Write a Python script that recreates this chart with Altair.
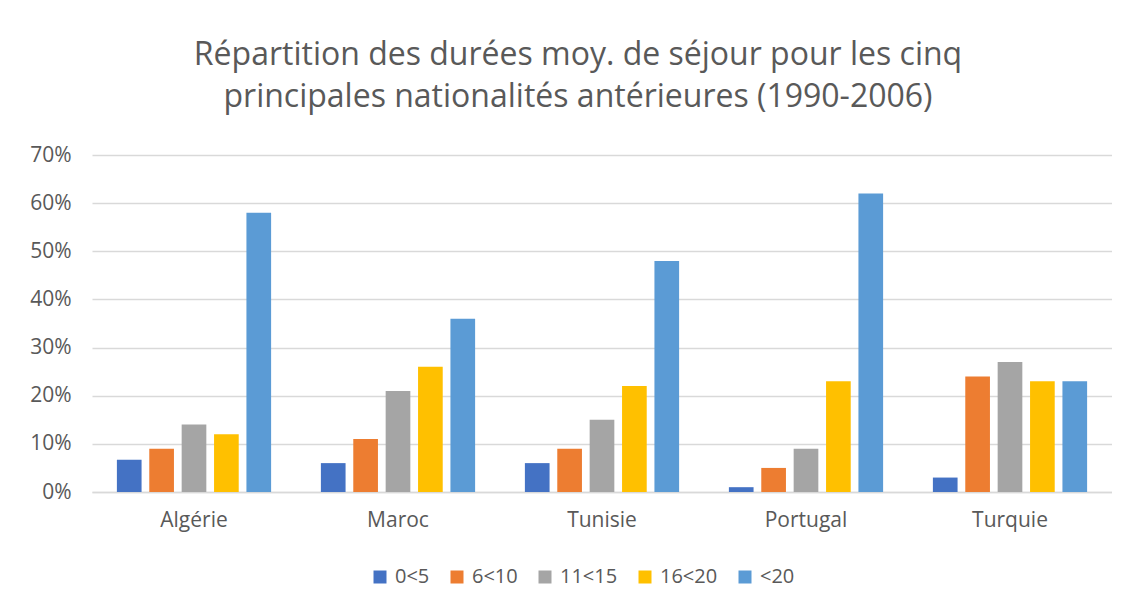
import altair as alt
import pandas as pd

countries = ["Algérie", "Maroc", "Tunisie", "Portugal", "Turquie"]
groups = ["0<5", "6<10", "11<15", "16<20", "<20"]
colors = ["#4472C4", "#ED7D31", "#A5A5A5", "#FFC000", "#5B9BD5"]
v_0_5 = [0.067, 0.06, 0.06, 0.01, 0.03]
v_6_10 = [0.09, 0.11, 0.09, 0.05, 0.24]
v_11_15 = [0.14, 0.21, 0.15, 0.09, 0.27]
v_16_20 = [0.12, 0.26, 0.22, 0.23, 0.23]
v_20 = [0.58, 0.36, 0.48, 0.62, 0.23]
y_ticks = [0, 0.1, 0.2, 0.3, 0.4, 0.5, 0.6, 0.7]

series = [v_0_5, v_6_10, v_11_15, v_16_20, v_20]
rows = []
for g, vals in zip(groups, series):
    for c, v in zip(countries, vals):
        rows.append({"Pays": c, "Durée": g, "Valeur": v})
df = pd.DataFrame(rows)

txt = "#595959"
chart = alt.Chart(df).mark_bar().encode(
    x=alt.X("Pays:N", sort=countries, title=None,
            scale=alt.Scale(paddingInner=0.244, paddingOuter=0.122),
            axis=alt.Axis(labelAngle=0, labelFontSize=21, labelColor=txt,
                          labelFont="Open Sans", ticks=False, domainColor="#d9d9d9",
                          domainWidth=1.5, labelPadding=17)),
    xOffset=alt.XOffset("Durée:N", sort=groups,
                        scale=alt.Scale(paddingInner=0.238, paddingOuter=0)),
    y=alt.Y("Valeur:Q", title=None,
            scale=alt.Scale(domain=[0, 0.7], nice=False),
            axis=alt.Axis(values=y_ticks, format=".0%", labelFontSize=21,
                          labelColor=txt, labelFont="Open Sans", ticks=False,
                          domain=False, gridColor="#d9d9d9", gridWidth=1.5,
                          labelPadding=21)),
    color=alt.Color("Durée:N", sort=groups,
                    scale=alt.Scale(domain=groups, range=colors),
                    legend=alt.Legend(title=None, orient="none", direction="horizontal",
                                      legendX=278, legendY=412, symbolType="square",
                                      symbolSize=169, symbolStrokeWidth=0,
                                      labelFontSize=20, labelColor=txt,
                                      labelFont="Open Sans", columnPadding=17,
                                      labelOffset=5)),
).properties(
    width=1020,
    height=337,
    title=alt.TitleParams(
        ["Répartition des durées moy. de séjour pour les cinq",
         "principales nationalités antérieures (1990-2006)"],
        fontSize=32, font="Open Sans", fontWeight="normal", color=txt,
        anchor="middle", offset=30, lineHeight=42, dx=-24),
    autosize=alt.AutoSizeParams(type="none"),
    padding={"left": 84, "top": 147, "right": 0, "bottom": 100},
).configure(background="white").configure_view(stroke=None)

chart.save("out.html", embed_options={"renderer": "svg", "actions": False})
